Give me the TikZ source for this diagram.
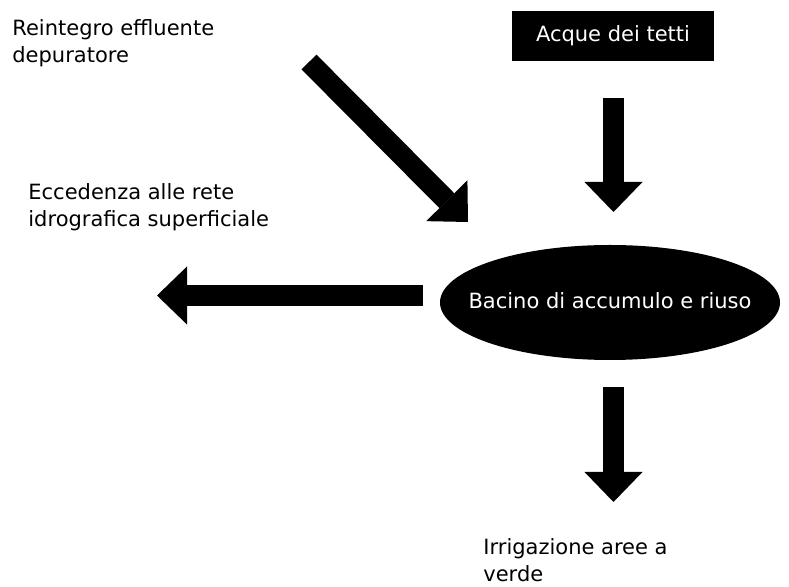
\documentclass[tikz,border=0pt]{standalone}
\usepackage{fontspec}
\setmainfont{DejaVu Sans}
\usetikzlibrary{shapes.geometric, arrows.meta, positioning}
\tikzset{
  %% ---- texts and boxes ----
  txt/.style      = {anchor=base west, align=left, inner sep=0pt,
                     font=\fontsize{10.5}{13.75}\selectfont},
  roofbox/.style  = {rectangle, fill=black, text=white,
                     minimum width=101pt, minimum height=25pt, inner sep=0pt,
                     font=\fontsize{10.5}{13.75}\selectfont},
  basin/.style    = {ellipse, fill=black, text=white,
                     minimum width=170pt, minimum height=57.5pt,
                     inner xsep=-20pt, inner ysep=0pt,
                     font=\fontsize{10.5}{13.75}\selectfont},
  %% ---- arrows ----
  bigarrow/.style = {-{Triangle[width=29pt, length=15pt, line width=0pt]},
                     line width=10.5pt, color=black},
}
\begin{document}
\begin{tikzpicture}[x=0.5pt, y=-0.5pt]
\useasboundingbox (0,0) rectangle (789,587);
\node[roofbox] (acque)  at (613,36)    {Acque dei tetti};
\node[basin]   (bacino) at (610,302.5) {\raisebox{1.5pt}{Bacino di accumulo e riuso}};
% multi-line texts: base is the last line
\node[txt] (reintegro)   at (12,63)  {Reintegro effluente\\depuratore};
\node[txt] (eccedenza)   at (28,227) {Eccedenza alle rete\\idrografica superficiale};
\node[txt] (irrigazione) at (483,582) {Irrigazione aree a\\verde};
% arrow ends
\coordinate (roofout)  at (613.5,98);
\coordinate (roofin)   at (613.5,212);
\coordinate (depout)   at (309,62);
\coordinate (depin)    at (468,222);
\coordinate (basinw)   at (423,295.5);
\coordinate (rete)     at (157,295.5);
\coordinate (basins)   at (613.5,387);
\coordinate (verde)    at (613.5,502);
\draw[bigarrow] (roofout) -- (roofin);
\draw[bigarrow] (depout)  -- (depin);
\draw[bigarrow] (basinw)  -- (rete);
\draw[bigarrow] (basins)  -- (verde);
\end{tikzpicture}
\end{document}
